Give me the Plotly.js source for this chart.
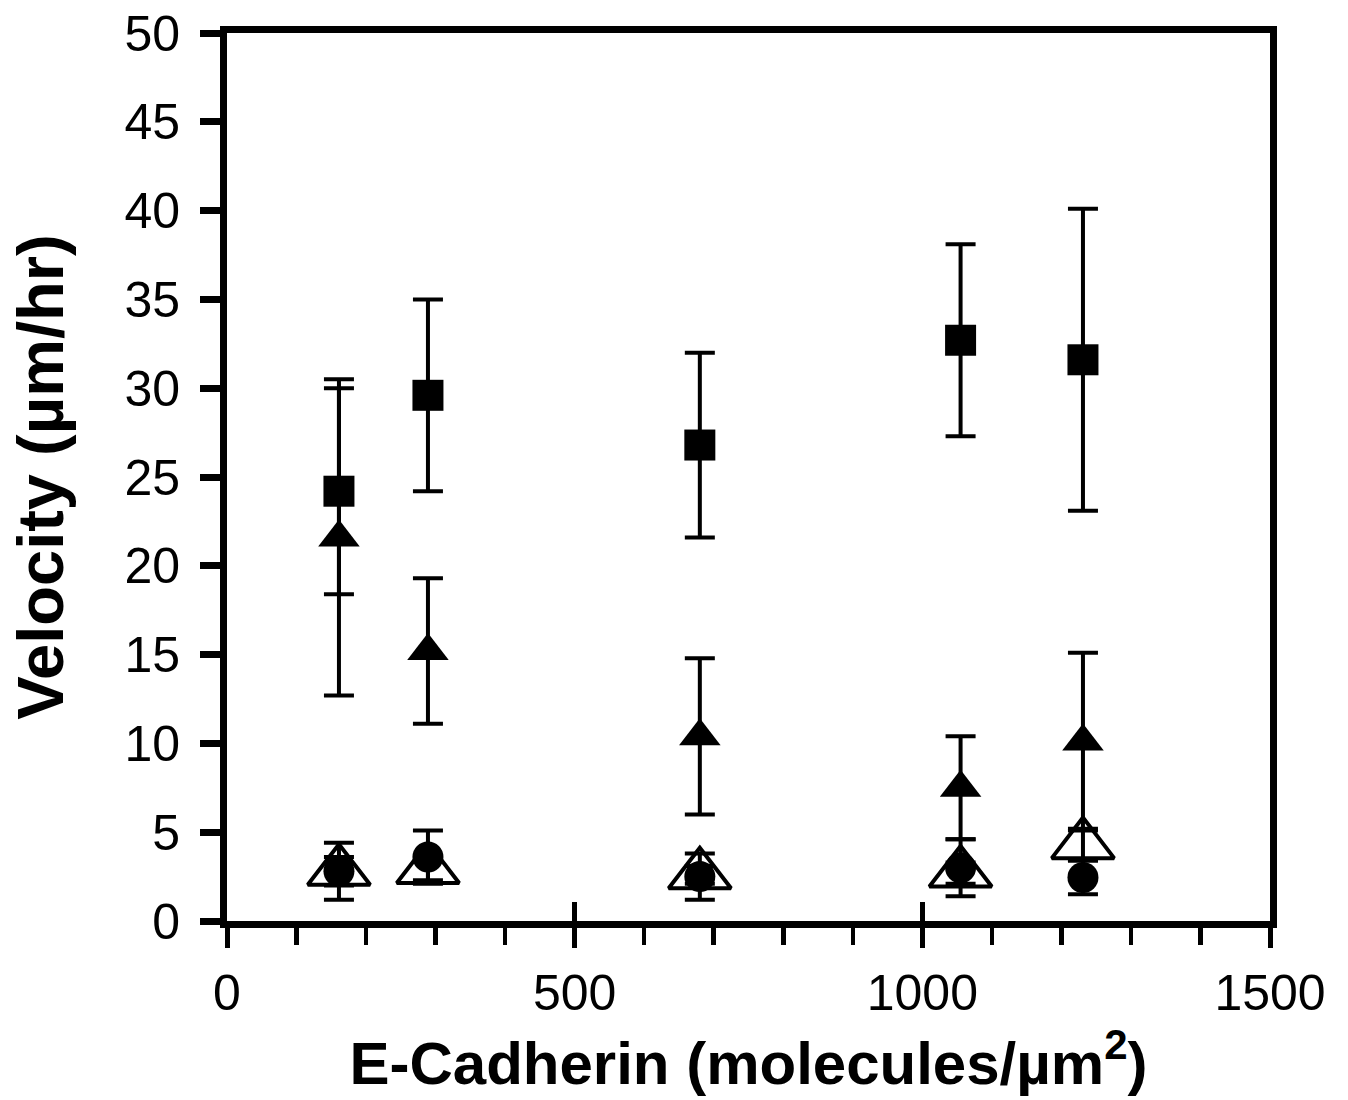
<!DOCTYPE html>
<html>
<head>
<meta charset="utf-8">
<script src="https://cdn.plot.ly/plotly-3.0.1.min.js"></script>
<style>html,body{margin:0;padding:0;background:#fff;}#chart{width:1348px;height:1100px;}</style>
</head>
<body>
<div id="chart"></div>
<script>
// E-Cadherin density (molecules/µm²)
const xVals = [161, 289, 680, 1055, 1231];
// Filled squares
const sqY = [24.2, 29.6, 26.8, 32.7, 31.6];
const sqErr = [5.8, 5.4, 5.2, 5.4, 8.5];
// Filled triangles
const triY = [21.6, 15.2, 10.4, 7.5, 10.1];
const triErr = [8.9, 4.1, 4.4, 2.9, 5.0];
// Open triangles
const openY = [2.8, 2.9, 2.6, 2.7, 4.3];
const openErr = [0.8, 0.6, 0.5, 0.6, 0.9];
// Filled circles
const circY = [2.8, 3.6, 2.5, 3.0, 2.45];
const circErr = [1.6, 1.5, 1.3, 1.6, 0.95];

const FONT = 'Arial, "Liberation Sans", sans-serif';

function errCfg(arr) {
  return {type: 'data', array: arr, visible: true, color: '#000', thickness: 4, width: 15};
}

const traces = [
  {x: xVals, y: sqY, type: 'scatter', mode: 'markers', name: 'squares',
   marker: {symbol: 'square', size: 31, color: '#000'}, error_y: errCfg(sqErr)},
  {x: xVals, y: triY, type: 'scatter', mode: 'markers', name: 'triangles',
   marker: {symbol: 'triangle-up', size: 36, color: '#000'}, error_y: errCfg(triErr)},
  {x: xVals, y: openY, type: 'scatter', mode: 'markers', name: 'open triangles',
   marker: {symbol: 'triangle-up-open', size: 54, color: '#000', line: {width: 4, color: '#000'}}, error_y: errCfg(openErr)},
  {x: xVals, y: circY, type: 'scatter', mode: 'markers', name: 'circles',
   marker: {symbol: 'circle', size: 31, color: '#000'}, error_y: errCfg(circErr)},
  {x: [], y: [], xaxis: 'x2', yaxis: 'y', type: 'scatter', mode: 'markers', showlegend: false, hoverinfo: 'skip'}
];

const layout = {
  width: 1348, height: 1100,
  margin: {l: 227, r: 78, t: 33, b: 179, pad: 0},
  paper_bgcolor: '#fff', plot_bgcolor: '#fff',
  showlegend: false,
  font: {family: FONT, color: '#000'},
  xaxis: {
    range: [0, 1500], dtick: 500, tick0: 0,
    showgrid: false, zeroline: false,
    showline: true, linewidth: 7, linecolor: '#000', mirror: true,
    ticks: 'outside', ticklen: 20, tickwidth: 5, tickcolor: '#000',
    minor: {dtick: 100, ticks: 'outside', ticklen: 17, tickwidth: 4.5, tickcolor: '#000', showgrid: false},
    tickfont: {size: 50, family: FONT, color: '#000'},
    ticklabelstandoff: 2,
    title: {text: '<b>E-Cadherin (molecules/µm<sup>2</sup>)</b>', font: {size: 60, family: FONT, color: '#000'}, standoff: 10}
  },
  xaxis2: {
    overlaying: 'x', anchor: 'y', side: 'bottom',
    range: [0, 1500], dtick: 500, tick0: 0,
    showgrid: false, zeroline: false, showline: false,
    ticks: 'inside', ticklen: 19, tickwidth: 5, tickcolor: '#000',
    showticklabels: false
  },
  yaxis: {
    range: [0, 50], dtick: 5, tick0: 0,
    showgrid: false, zeroline: false,
    showline: true, linewidth: 7, linecolor: '#000', mirror: true,
    ticks: 'outside', ticklen: 20, tickwidth: 7, tickcolor: '#000',
    tickfont: {size: 50, family: FONT, color: '#000'},
    ticklabelstandoff: 10,
    title: {text: '<b>Velocity (µm/hr)</b>', font: {size: 65, family: FONT, color: '#000'}, standoff: 42}
  }
};

Plotly.newPlot('chart', traces, layout, {staticPlot: true, displayModeBar: false});
</script>
</body>
</html>
